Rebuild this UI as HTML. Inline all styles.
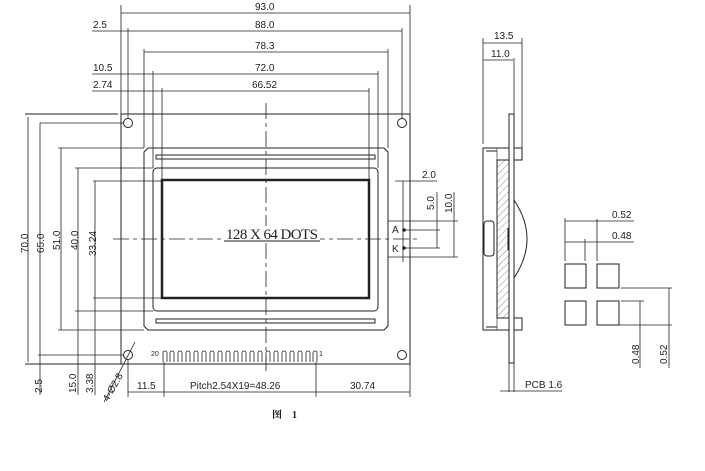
<!DOCTYPE html>
<html><head><meta charset="utf-8"><style>
html,body{margin:0;padding:0;background:#fff;width:705px;height:471px;overflow:hidden}
svg{display:block}
text{font-family:"Liberation Sans",sans-serif;font-size:10px;fill:#222}
</style></head><body>
<svg width="705" height="471" viewBox="0 0 705 471" stroke="#222" stroke-width="1" fill="none">
<defs>
<pattern id="h" width="5" height="5" patternUnits="userSpaceOnUse" patternTransform="rotate(45)"><line x1="0" y1="0" x2="0" y2="5" stroke="#444" stroke-width="0.6"/></pattern>
</defs>
<!-- top dims -->
<g stroke-width="0.8">
<line x1="121" y1="13" x2="410" y2="13"/>
<line x1="92" y1="31" x2="402" y2="31"/>
<line x1="144" y1="52" x2="388" y2="52"/>
<line x1="92" y1="74" x2="378" y2="74"/>
<line x1="92" y1="91" x2="369" y2="91"/>
<line x1="121" y1="5" x2="121" y2="114"/>
<line x1="410" y1="5" x2="410" y2="364"/>
<line x1="128" y1="28" x2="128" y2="118"/>
<line x1="402" y1="28" x2="402" y2="118"/>
<line x1="144" y1="49" x2="144" y2="148"/>
<line x1="388" y1="49" x2="388" y2="148"/>
<line x1="153" y1="71" x2="153" y2="168"/>
<line x1="378" y1="71" x2="378" y2="168"/>
<line x1="162" y1="88" x2="162" y2="180"/>
<line x1="369" y1="88" x2="369" y2="180"/>
</g>
<g fill="#222" stroke="none">
<text x="255" y="10">93.0</text>
<text x="255" y="28">88.0</text>
<text x="255" y="49">78.3</text>
<text x="255" y="71">72.0</text>
<text x="252" y="88">66.52</text>
<text x="93" y="28">2.5</text>
<text x="93" y="71">10.5</text>
<text x="93" y="88">2.74</text>
</g>
<!-- PCB -->
<line x1="25" y1="114" x2="118" y2="114"/>
<rect x="121" y="114" width="289" height="250"/>
<line x1="25" y1="364" x2="121" y2="364"/>
<circle cx="128" cy="123" r="4.5"/><circle cx="402" cy="123" r="4.5"/>
<circle cx="128" cy="355" r="4.5"/><circle cx="402" cy="355" r="4.5"/>
<!-- bezel -->
<path d="M148 148 H384 L388 152 V326 L384 330 H148 L144 326 V152 Z"/>
<rect x="156" y="155" width="219" height="4"/>
<rect x="156" y="319" width="219" height="4"/>
<rect x="153" y="168" width="225" height="143" rx="4"/>
<rect x="162" y="180" width="207" height="118" stroke-width="2.5"/>
<!-- center lines -->
<line x1="113" y1="239" x2="420" y2="239" stroke-dasharray="16,4,4,4" stroke-width="0.8"/>
<line x1="266" y1="103" x2="266" y2="372" stroke-dasharray="16,4,4,4" stroke-width="0.8"/>
<rect x="224" y="226" width="96" height="16" fill="#fff" stroke="none"/>
<text x="226" y="239" style="font-family:'Liberation Serif',serif;font-size:15px" fill="#222" stroke="none" textLength="92">128 X 64 DOTS</text>
<line x1="224" y1="241" x2="320" y2="241"/>
<!-- left verticals -->
<g stroke-width="0.8">
<line x1="28" y1="117" x2="28" y2="362"/>
<line x1="40" y1="123" x2="40" y2="395"/><line x1="40" y1="123" x2="124" y2="123"/>
<line x1="61" y1="148" x2="61" y2="330"/><line x1="58" y1="148" x2="144" y2="148"/><line x1="58" y1="330" x2="144" y2="330"/>
<line x1="78" y1="168" x2="78" y2="395"/><line x1="75" y1="168" x2="153" y2="168"/><line x1="75" y1="311" x2="153" y2="311"/>
<line x1="95" y1="181" x2="95" y2="395"/><line x1="93" y1="181" x2="162" y2="181"/><line x1="93" y1="298" x2="162" y2="298"/>
<line x1="38" y1="355" x2="124" y2="355"/>
<line x1="75" y1="311" x2="75" y2="311"/>
</g>
<g fill="#222" stroke="none">
<text transform="translate(28,253) rotate(-90)">70.0</text>
<text transform="translate(44,253) rotate(-90)">65.0</text>
<text transform="translate(60,250) rotate(-90)">51.0</text>
<text transform="translate(78,250) rotate(-90)">40.0</text>
<text transform="translate(96,256) rotate(-90)">33.24</text>
<text transform="translate(42,393) rotate(-90)">2.5</text>
<text transform="translate(76,393) rotate(-90)">15.0</text>
<text transform="translate(93,393) rotate(-90)">3.38</text>
<text transform="translate(108,402) rotate(-60)">4-Ø2.8</text>
</g>
<line x1="104" y1="402" x2="135" y2="342" stroke-width="0.8"/>
<!-- pins -->
<g stroke-width="0.8">
<path d="M163 362 V353 a2 2 0 0 1 4 0 V362 M170 362 V353 a2 2 0 0 1 4 0 V362 M178 362 V353 a2 2 0 0 1 4 0 V362 M186 362 V353 a2 2 0 0 1 4 0 V362 M194 362 V353 a2 2 0 0 1 4 0 V362 M202 362 V353 a2 2 0 0 1 4 0 V362 M210 362 V353 a2 2 0 0 1 4 0 V362 M218 362 V353 a2 2 0 0 1 4 0 V362 M226 362 V353 a2 2 0 0 1 4 0 V362 M234 362 V353 a2 2 0 0 1 4 0 V362 M242 362 V353 a2 2 0 0 1 4 0 V362 M250 362 V353 a2 2 0 0 1 4 0 V362 M258 362 V353 a2 2 0 0 1 4 0 V362 M266 362 V353 a2 2 0 0 1 4 0 V362 M274 362 V353 a2 2 0 0 1 4 0 V362 M282 362 V353 a2 2 0 0 1 4 0 V362 M290 362 V353 a2 2 0 0 1 4 0 V362 M298 362 V353 a2 2 0 0 1 4 0 V362 M306 362 V353 a2 2 0 0 1 4 0 V362 M313 362 V353 a2 2 0 0 1 4 0 V362"/>
<line x1="128" y1="360" x2="128" y2="397"/>
<line x1="164" y1="362" x2="164" y2="397"/>
<line x1="316" y1="362" x2="316" y2="397"/>
<line x1="128" y1="392" x2="410" y2="392"/>
<line x1="410" y1="364" x2="410" y2="397"/>
</g>
<g fill="#222" stroke="none">
<text x="151" y="356" style="font-size:7px">20</text>
<text x="319" y="356" style="font-size:7px">1</text>
<text x="137" y="389">11.5</text>
<text x="190" y="389">Pitch2.54X19=48.26</text>
<text x="350" y="389">30.74</text>
<text x="272" y="418" style="font-family:'Liberation Serif','Noto Serif CJK SC',serif;font-size:10px;font-weight:bold" fill="#2a2a80">图　1</text>
</g>
<!-- LED -->
<g stroke-width="0.8">
<line x1="388" y1="221" x2="458" y2="221"/>
<line x1="388" y1="257" x2="458" y2="257"/>
<line x1="403" y1="181" x2="403" y2="262"/>
<line x1="395" y1="181" x2="437" y2="181"/>
<line x1="404" y1="230" x2="440" y2="230"/>
<line x1="404" y1="248" x2="440" y2="248"/>
<line x1="437" y1="192" x2="437" y2="248"/>
<line x1="454" y1="192" x2="454" y2="257"/>
</g>
<circle cx="404" cy="230" r="1.8" fill="#222" stroke="none"/>
<circle cx="404" cy="248" r="1.8" fill="#222" stroke="none"/>
<g fill="#222" stroke="none">
<text x="422" y="178">2.0</text>
<text x="392" y="233">A</text>
<text x="392" y="252">K</text>
<text transform="translate(434,210) rotate(-90)">5.0</text>
<text transform="translate(452,213) rotate(-90)">10.0</text>
</g>
<!-- side view -->
<g stroke-width="0.8">
<line x1="483" y1="43" x2="522" y2="43"/>
<line x1="483" y1="60" x2="513" y2="60"/>
<line x1="483" y1="38" x2="483" y2="144"/>
<line x1="522" y1="38" x2="522" y2="148"/>
<line x1="514" y1="58" x2="514" y2="114"/>
</g>
<g fill="#222" stroke="none"><text x="494" y="39">13.5</text><text x="491" y="57">11.0</text></g>
<rect x="509" y="114" width="5" height="249"/>
<path d="M509 148 H483 V330 H509"/>
<path d="M486 151 H497 M486 327 H497"/>
<rect x="514" y="148" width="8" height="12"/>
<rect x="514" y="318" width="8" height="12"/>
<rect x="497" y="160" width="12" height="158" fill="url(#h)"/>
<rect x="497" y="148" width="12" height="12" stroke-width="0.6"/>
<rect x="497" y="318" width="12" height="12" stroke-width="0.6"/>
<rect x="484" y="221" width="10" height="35" rx="3"/>
<path d="M514 200 Q540 239 514 278"/>
<line x1="508" y1="228" x2="508" y2="250"/>
<g stroke-width="0.8">
<line x1="509" y1="363" x2="509" y2="392"/><line x1="514" y1="363" x2="514" y2="392"/>
<line x1="500" y1="391" x2="562" y2="391"/>
</g>
<text x="525" y="388" fill="#222" stroke="none">PCB  1.6</text>
<!-- dots -->
<rect x="565" y="264" width="21" height="24"/>
<rect x="597" y="264" width="22" height="24"/>
<rect x="565" y="301" width="21" height="24"/>
<rect x="597" y="301" width="22" height="24"/>
<g stroke-width="0.8">
<line x1="565" y1="218" x2="565" y2="261"/>
<line x1="597" y1="219" x2="597" y2="261"/>
<line x1="585" y1="239" x2="585" y2="261"/>
<line x1="565" y1="221" x2="634" y2="221"/>
<line x1="565" y1="242" x2="634" y2="242"/>
<line x1="621" y1="288" x2="672" y2="288"/>
<line x1="621" y1="301" x2="644" y2="301"/>
<line x1="669" y1="288" x2="669" y2="368"/>
<line x1="640" y1="301" x2="640" y2="368"/>
<line x1="597" y1="325" x2="672" y2="325"/>
</g>
<g fill="#222" stroke="none">
<text x="612" y="218">0.52</text>
<text x="612" y="239">0.48</text>
<text transform="translate(639,364) rotate(-90)">0.48</text>
<text transform="translate(667,364) rotate(-90)">0.52</text>
</g>
</svg>
</body></html>
